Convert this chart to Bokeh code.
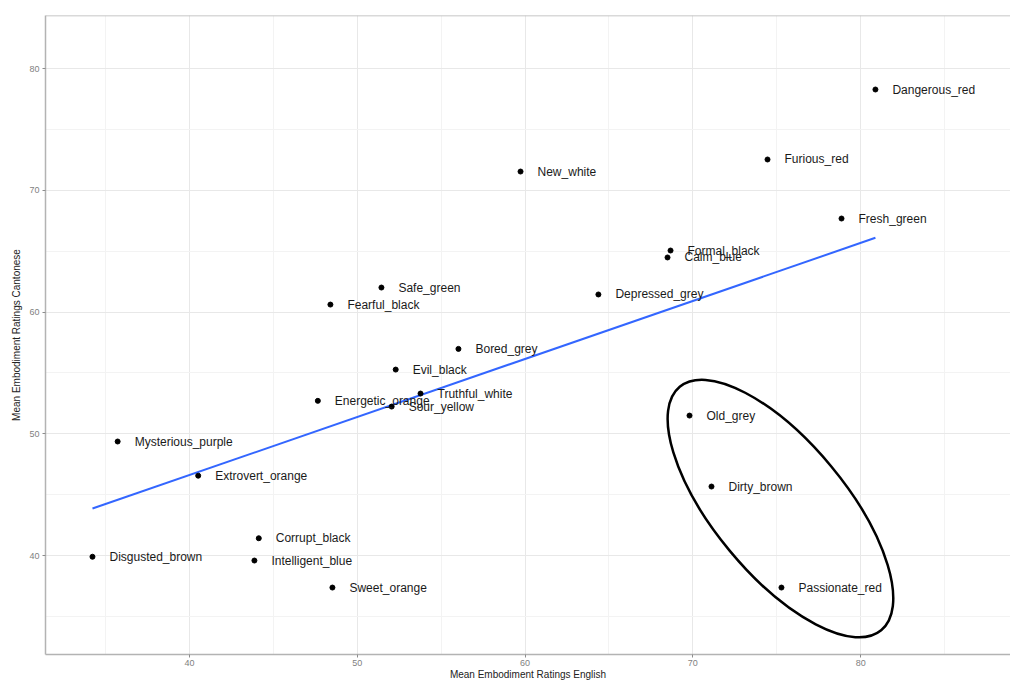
import numpy as np
from bokeh.plotting import figure
from bokeh.models import ColumnDataSource, Range1d, SingleIntervalTicker, Span
from bokeh.core.properties import value
from bokeh.embed import file_html
from bokeh.resources import INLINE

labels = ["Dangerous_red", "Furious_red", "New_white", "Fresh_green", "Formal_black",
          "Calm_blue", "Depressed_grey", "Safe_green", "Fearful_black", "Bored_grey",
          "Evil_black", "Energetic_orange", "Truthful_white", "Sour_yellow",
          "Mysterious_purple", "Extrovert_orange", "Disgusted_brown", "Corrupt_black",
          "Intelligent_blue", "Sweet_orange", "Old_grey", "Dirty_brown", "Passionate_red"]
english = [80.88, 74.45, 59.73, 78.86, 68.67, 68.49, 64.37, 51.44, 48.40, 56.03,
           52.29, 47.65, 53.77, 52.05, 35.72, 40.52, 34.22, 44.13, 43.87, 48.52,
           69.80, 71.11, 75.28]
cantonese = [78.29, 72.54, 71.55, 67.69, 65.06, 64.49, 61.45, 62.02, 60.62, 56.98,
             55.28, 52.71, 53.31, 52.24, 49.37, 46.56, 39.90, 41.42, 39.59, 37.37,
             51.50, 45.67, 37.37]

# highlighted cluster ellipse (center in data units)
ellipse_center = (75.22, 43.86)

FONT = "Liberation Sans"
Y0, Y1 = 31.87, 84.37

p = figure(width=1010, height=682, output_backend="svg", toolbar_location=None,
           x_range=Range1d(31.42, 88.93), y_range=Range1d(Y0, Y1),
           min_border_left=45, min_border_right=0, min_border_top=15, min_border_bottom=26)
p.background_fill_color = "white"
p.border_fill_color = "white"
p.outline_line_color = None

for ax in (p.xaxis[0], p.yaxis[0]):
    ax.ticker = SingleIntervalTicker(interval=10, num_minor_ticks=2)
    ax.axis_line_color = "#b3b3b3"
    ax.axis_line_width = 1.5
    ax.major_tick_line_color = "#8c8c8c"
    ax.major_tick_out = 3
    ax.major_tick_in = 0
    ax.minor_tick_line_color = None
    ax.major_label_text_font = FONT
    ax.major_label_text_font_size = "9px"
    ax.major_label_text_color = "#7f7f7f"
    ax.axis_label_text_font = FONT
    ax.axis_label_text_font_size = "10px"
    ax.axis_label_text_font_style = "normal"
    ax.axis_label_text_color = "#222222"

p.xaxis.major_label_standoff = 1
p.yaxis.major_label_standoff = 2
p.xaxis.axis_label = "Mean Embodiment Ratings English"
p.xaxis.axis_label_standoff = 0
p.yaxis.axis_label = "Mean Embodiment Ratings Cantonese"
p.yaxis.axis_label_standoff = 4

p.xgrid.ticker = SingleIntervalTicker(interval=10, num_minor_ticks=2)
p.ygrid.ticker = SingleIntervalTicker(interval=10, num_minor_ticks=2)
for g in (p.xgrid[0], p.ygrid[0]):
    g.grid_line_color = "#e8e8e8"
    g.grid_line_width = 1
    g.minor_grid_line_color = "#f3f3f3"
    g.minor_grid_line_width = 1

# top panel border
p.add_layout(Span(location=Y1, dimension="width", line_color="#b3b3b3", line_width=1.5))

# regression line
slope, intercept = np.polyfit(english, cantonese, 1)
fx = np.array([min(english), max(english)])
p.line(fx, slope * fx + intercept, line_color="#3366ff", line_width=2)

src = ColumnDataSource(dict(x=english, y=cantonese, label=labels))
p.scatter("x", "y", source=src, size=5, color="black")
p.text("x", "y", text="label", source=src, x_offset=17, y_offset=0,
       text_font=value(FONT), text_font_size="12px", text_color="#1a1a1a",
       text_baseline="alphabetic", text_align="left")

p.ellipse(x=[ellipse_center[0]], y=[ellipse_center[1]], width=[316], height=[132],
          angle=[-np.deg2rad(50.4)], width_units="screen", height_units="screen",
          fill_color=None, line_color="black", line_width=2.5)

open("out.html", "w").write(file_html(p, INLINE))
